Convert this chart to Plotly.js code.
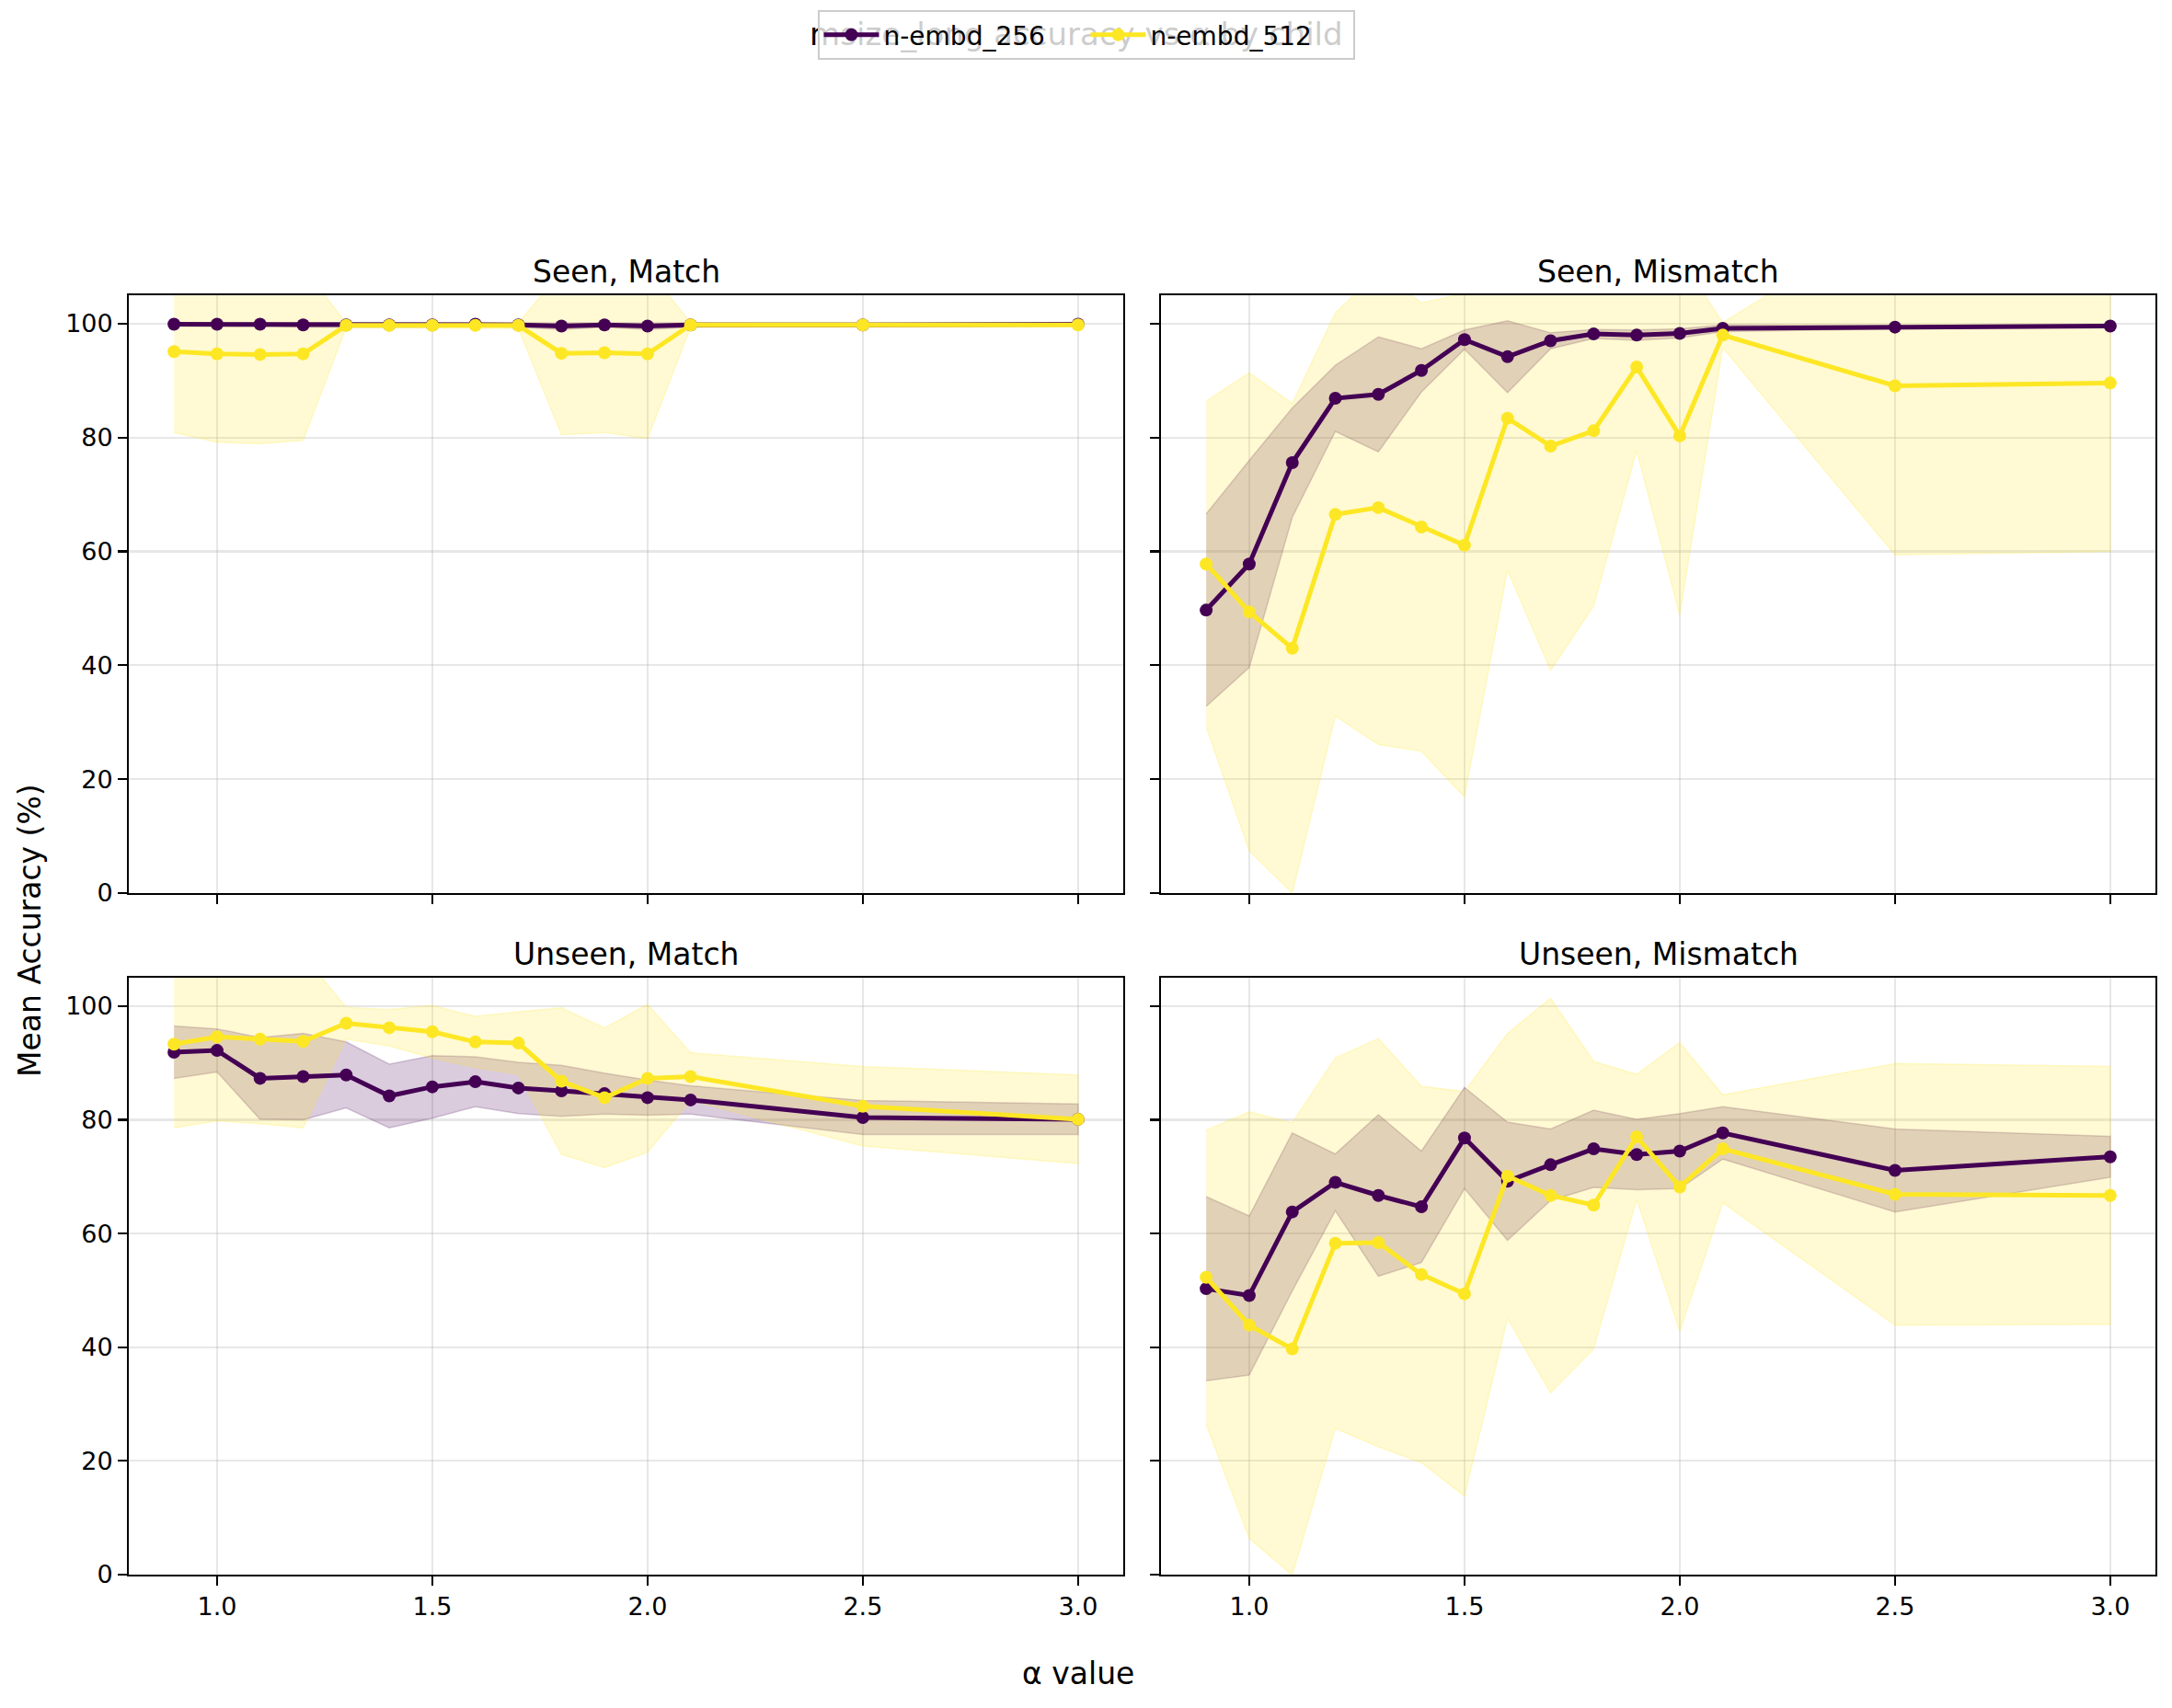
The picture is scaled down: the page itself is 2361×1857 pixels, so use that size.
<!DOCTYPE html>
<html><head><meta charset="utf-8">
<script src="https://cdn.plot.ly/plotly-3.0.1.min.js"></script>
<style>html,body{margin:0;padding:0;background:#fff}#chart{width:2361px;height:1857px}</style>
</head><body><div id="chart"></div>
<script>
// ---- data ----
const alphas = [0.9,1.0,1.1,1.2,1.3,1.4,1.5,1.6,1.7,1.8,1.9,2.0,2.1,2.5,3.0];
const xTickVals = [1.0,1.5,2.0,2.5,3.0];
const xTickText = ['1.0','1.5','2.0','2.5','3.0'];
const yTickVals = [0,20,40,60,80,100];
const seriesNames = ['n-embd_256','n-embd_512'];
const panelTitles = ['Seen, Match','Seen, Mismatch','Unseen, Match','Unseen, Mismatch'];

// Seen, Match
const sm256_mean = [99.9,99.9,99.9,99.8,99.8,99.8,99.8,99.9,99.8,99.6,99.8,99.6,99.8,99.8,99.9];
const sm256_std  = [0.3,0.3,0.3,0.4,0.4,0.4,0.4,0.3,0.4,0.6,0.4,0.6,0.4,0.3,0.2];
const sm512_mean = [95.1,94.7,94.6,94.7,99.7,99.7,99.7,99.7,99.7,94.8,94.9,94.7,99.8,99.8,99.8];
const sm512_std  = [14.2,15.5,15.7,15.2,0.4,0.4,0.4,0.5,0.5,14.3,14.0,14.9,0.4,0.3,0.3];
// Seen, Mismatch
const smm256_mean = [49.7,57.8,75.6,86.9,87.6,91.8,97.2,94.2,97.0,98.2,98.0,98.3,99.2,99.4,99.6];
const smm256_std  = [16.9,18.2,9.6,5.8,10.1,3.8,1.7,6.3,1.4,0.8,0.9,0.8,0.6,0.3,0.2];
const smm512_mean = [57.8,49.4,43.0,66.5,67.7,64.3,61.1,83.4,78.5,81.2,92.4,80.3,98.0,89.1,89.6];
const smm512_std  = [28.6,42.0,43.0,35.4,41.6,39.4,44.2,26.7,39.4,30.8,14.7,31.5,2.2,29.7,29.6];
// Unseen, Match
const um256_mean = [91.9,92.2,87.3,87.6,87.9,84.2,85.8,86.7,85.6,85.1,84.6,83.9,83.5,80.4,80.1];
const um256_std  = [4.6,3.8,7.2,7.6,5.8,5.6,5.5,4.4,4.5,4.5,3.6,3.1,2.5,3.0,2.7];
const um512_mean = [93.3,94.6,94.2,93.8,97.0,96.2,95.5,93.7,93.5,86.8,83.9,87.3,87.6,82.4,80.1];
const um512_std  = [14.7,14.8,14.9,15.2,2.8,3.2,4.6,4.5,5.5,12.9,12.3,13.0,4.2,7.0,7.8];
// Unseen, Mismatch
const umm256_mean = [50.3,49.1,63.8,69.0,66.7,64.7,76.8,69.2,72.1,74.9,73.9,74.5,77.7,71.1,73.5];
const umm256_std  = [16.2,14.0,13.9,5.0,14.2,9.8,8.9,10.4,6.3,6.8,6.2,6.6,4.6,7.3,3.6];
const umm512_mean = [52.3,43.9,39.7,58.3,58.4,52.8,49.4,70.1,66.7,65.0,77.0,68.2,74.9,66.9,66.7];
const umm512_std  = [25.9,37.5,39.8,32.6,35.9,33.1,35.6,25.1,34.7,25.3,11.0,25.4,9.5,23.0,22.7];

// ---- layout / style ----
const W = 2361, H = 1857;
const FONT = 'DejaVu Sans, sans-serif';
const lineColors = ['#440154', '#fde725'];
const fillColors = ['rgba(68,1,84,0.2)', 'rgba(253,231,37,0.2)'];

const colPx = [[140,1221],[1262,2343]];
const rowPx = [[321,971],[1063,1712]];
function xd(c){ return [colPx[c][0]/W, colPx[c][1]/W]; }
function yd(r){ return [1-rowPx[r][1]/H, 1-rowPx[r][0]/H]; }

const panels = [
  {r:0,c:0, s:[[sm256_mean,sm256_std],[sm512_mean,sm512_std]]},
  {r:0,c:1, s:[[smm256_mean,smm256_std],[smm512_mean,smm512_std]]},
  {r:1,c:0, s:[[um256_mean,um256_std],[um512_mean,um512_std]]},
  {r:1,c:1, s:[[umm256_mean,umm256_std],[umm512_mean,umm512_std]]}
];

const traces = [];
const layout = {
  width: W, height: H,
  margin: {l:0,r:0,t:0,b:0},
  paper_bgcolor: '#ffffff', plot_bgcolor: '#ffffff',
  font: {family: FONT, color: '#000000'},
  showlegend: true,
  title: {
    text: 'msize_long accuracy vs α by child',
    font: {family: FONT, size: 34, color: '#000000'},
    x: 0.4955, xanchor: 'center', xref: 'paper',
    y: 1 - 37/H, yanchor: 'middle', yref: 'container'
  },
  legend: {
    orientation: 'h', x: 0.5, xanchor: 'center', y: 1 - 38/H, yanchor: 'middle',
    bgcolor: 'rgba(255,255,255,0.8)', bordercolor: '#cccccc', borderwidth: 2,
    font: {family: FONT, size: 28, color: '#000000'},
    itemwidth: 60, entrywidth: 215, traceorder: 'normal'
  },
  annotations: [],
  hovermode: false
};

panels.forEach((p, i) => {
  const n = i + 1;
  const xa = 'x' + (n === 1 ? '' : n), ya = 'y' + (n === 1 ? '' : n);
  // fills (mean ± std)
  p.s.forEach((s, k) => {
    const [mean, std] = s;
    const up = mean.map((m, j) => m + std[j]);
    const lo = mean.map((m, j) => m - std[j]);
    traces.push({
      type: 'scatter', mode: 'lines', xaxis: xa, yaxis: ya,
      x: alphas.concat(alphas.slice().reverse()),
      y: up.concat(lo.slice().reverse()),
      fill: 'toself', fillcolor: fillColors[k],
      line: {color: fillColors[k], width: 1.5},
      showlegend: false, hoverinfo: 'skip'
    });
  });
  // mean lines
  p.s.forEach((s, k) => {
    traces.push({
      type: 'scatter', mode: 'lines+markers', xaxis: xa, yaxis: ya,
      x: alphas, y: s[0], name: seriesNames[k],
      line: {color: lineColors[k], width: 5},
      marker: {color: lineColors[k], size: 14},
      showlegend: i === 0
    });
  });
  const axCommon = {
    showline: true, mirror: true, linecolor: '#000000', linewidth: 2.2,
    ticks: 'outside', ticklen: 9.7, tickwidth: 2.2, tickcolor: '#000000',
    showgrid: true, gridcolor: 'rgba(176,176,176,0.3)', gridwidth: 2.2,
    zeroline: false, tickfont: {family: FONT, size: 27, color: '#000000'}
  };
  layout['xaxis' + (n === 1 ? '' : n)] = Object.assign({}, axCommon, {
    domain: xd(p.c), anchor: ya, range: [0.795, 3.105],
    tickmode: 'array', tickvals: xTickVals, ticktext: xTickText,
    showticklabels: p.r === 1
  });
  layout['yaxis' + (n === 1 ? '' : n)] = Object.assign({}, axCommon, {
    domain: yd(p.r), anchor: xa, range: [0, 105],
    tickmode: 'array', tickvals: yTickVals,
    showticklabels: p.c === 0
  });
  const dx = xd(p.c), dy = yd(p.r);
  layout.annotations.push({
    text: panelTitles[i], xref: 'paper', yref: 'paper',
    x: (dx[0] + dx[1]) / 2, y: dy[1], xanchor: 'center', yanchor: 'bottom', yshift: 4,
    showarrow: false, font: {family: FONT, size: 33, color: '#000000'}
  });
});

layout.annotations.push({
  text: 'α value', xref: 'paper', yref: 'paper', x: 1172/W, y: 1 - 1819/H,
  xanchor: 'center', yanchor: 'middle', showarrow: false,
  font: {family: FONT, size: 33, color: '#000000'}
});
layout.annotations.push({
  text: 'Mean Accuracy (%)', xref: 'paper', yref: 'paper', x: 33/W, y: 1 - 1012/H,
  xanchor: 'center', yanchor: 'middle', textangle: -90, showarrow: false,
  font: {family: FONT, size: 33, color: '#000000'}
});

Plotly.newPlot('chart', traces, layout, {staticPlot: true, displayModeBar: false}).then(gd => {
  const leg = gd.querySelector('g.legend');
  if (leg && leg.parentNode) leg.parentNode.appendChild(leg);
});
</script>
</body></html>
